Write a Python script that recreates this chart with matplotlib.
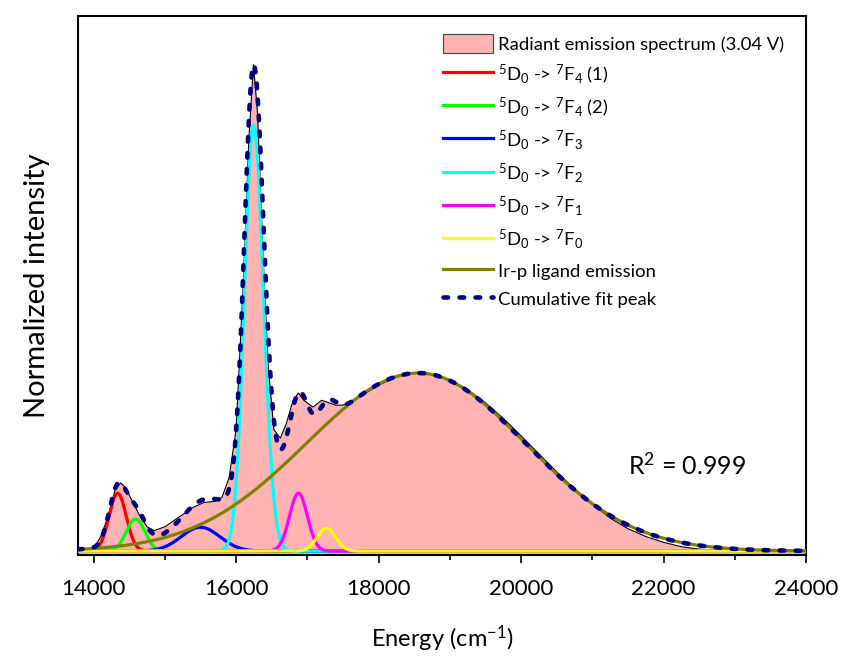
"""
Emission spectrum with Gaussian peak-fit components.
"""
import numpy as np
import matplotlib
matplotlib.use('Agg')
import matplotlib.pyplot as plt

plt.rcParams['font.family'] = ['Lato', 'DejaVu Sans']
plt.rcParams['mathtext.fontset'] = 'custom'
plt.rcParams['mathtext.rm'] = 'Lato'
plt.rcParams['mathtext.it'] = 'Lato:italic'

# measured spectrum (cm-1, normalized)
spec_energy = [13780, 14000, 14100, 14200, 14300, 14380, 14450, 14550, 14650, 14750,
               14850, 15000, 15200, 15400, 15550, 15700, 15800, 15900, 16000, 16100,
               16180, 16244, 16300, 16380, 16450, 16530, 16620, 16700, 16800, 16875,
               16950, 17080, 17200, 17300, 17400, 17500, 17750, 18000, 18250, 18500,
               18750, 19000, 19250, 19500, 19750, 20000, 20250, 20500, 20750, 21000,
               21250, 21500, 21750, 22000, 22250, 22500, 22750, 23000, 23500, 24000]
spec_value = [0.0, 0.005, 0.03, 0.07, 0.125, 0.14, 0.13, 0.10, 0.072, 0.050,
              0.042, 0.050, 0.070, 0.090, 0.100, 0.102, 0.110, 0.15, 0.25, 0.55,
              0.85, 1.0, 0.90, 0.60, 0.38, 0.25, 0.232, 0.26, 0.31, 0.325,
              0.31, 0.296, 0.31, 0.305, 0.300, 0.300, 0.318, 0.341, 0.358, 0.366,
              0.364, 0.352, 0.332, 0.305, 0.273, 0.237, 0.200, 0.163, 0.128, 0.097,
              0.068, 0.046, 0.030, 0.018, 0.009, 0.004, 0.001, 0.0, 0.0, 0.0]

# fitted components: centre (cm-1), height, sigma below / above the centre (cm-1)
peak_labels = [r'$^{5}$D$_{0}$ -> $^{7}$F$_{4}$ (1)',
               r'$^{5}$D$_{0}$ -> $^{7}$F$_{4}$ (2)',
               r'$^{5}$D$_{0}$ -> $^{7}$F$_{3}$',
               r'$^{5}$D$_{0}$ -> $^{7}$F$_{2}$',
               r'$^{5}$D$_{0}$ -> $^{7}$F$_{1}$',
               r'$^{5}$D$_{0}$ -> $^{7}$F$_{0}$',
               'Ir-p ligand emission']
peak_centers = [14337, 14589, 15500, 16244, 16875, 17268, 18560]
peak_heights = [0.119, 0.066, 0.049, 0.875, 0.119, 0.047, 0.366]
sigma_low = [120, 130, 270, 128, 125, 130, 1570]
sigma_high = [120, 130, 270, 140, 125, 130, 1500]
peak_colors = ['#FF0000', '#00FF00', '#0000FF', '#00FFFF', '#FF00FF', '#FFFF00', '#808000']

fig = plt.figure(figsize=(8.45, 6.57), dpi=100)
ax = fig.add_axes([0.0923, 0.1553, 0.8615, 0.8203])

x_min, x_max = 13780, 24000
y_min, y_max = -0.008, 1.10
x = np.linspace(x_min, x_max, 2000)

ax.fill_between(spec_energy, spec_value, y_min, facecolor='#FFB3B3', edgecolor='#404040',
                linewidth=0, label='Radiant emission spectrum (3.04 V)', zorder=1)
ax.plot(spec_energy, spec_value, color='black', lw=0.8, zorder=2)

total = np.zeros_like(x)
for lab, c, h, sl, sh, col in zip(peak_labels, peak_centers, peak_heights,
                                  sigma_low, sigma_high, peak_colors):
    s = np.where(x < c, sl, sh)
    y = h * np.exp(-(x - c) ** 2 / (2 * s ** 2))
    total += y
    ax.plot(x, y, color=col, lw=2.3, label=lab, zorder=3)

ax.plot(x, total, color='#000080', lw=3.3, dashes=(1.0, 2.5), dash_capstyle='round',
        label='Cumulative fit peak', zorder=4)

ax.set_xlim(x_min, x_max)
ax.set_ylim(y_min, y_max)
ax.set_xticks(range(14000, 24001, 2000))
ax.set_xticks(range(15000, 24000, 2000), minor=True)
ax.set_yticks([])
ax.tick_params(axis='x', which='major', length=6, width=1.2, direction='out',
               labelsize=16, pad=11)
ax.tick_params(axis='x', which='minor', length=3.5, width=1.2, direction='out')
for sp in ax.spines.values():
    sp.set_linewidth(1.5)

ax.set_xlabel('Energy (cm$^{-1}$)', fontsize=17, labelpad=18)
ax.set_ylabel('Normalized intensity', fontsize=21, labelpad=20)

ax.text(21500, 0.177, 'R$^{2}$ = 0.999', fontsize=18, va='center', ha='left')

handles, labels = ax.get_legend_handles_labels()
leg = ax.legend(handles, labels, loc='upper left', bbox_to_anchor=(0.491, 0.981),
                frameon=False, fontsize=13.3, handlelength=2.7, handleheight=1.25,
                handletextpad=0.27, labelspacing=0.5, borderaxespad=0)
for p in leg.get_patches():
    p.set_edgecolor('#404040')
    p.set_linewidth(0.8)

fig.savefig('out.png', dpi=100)
